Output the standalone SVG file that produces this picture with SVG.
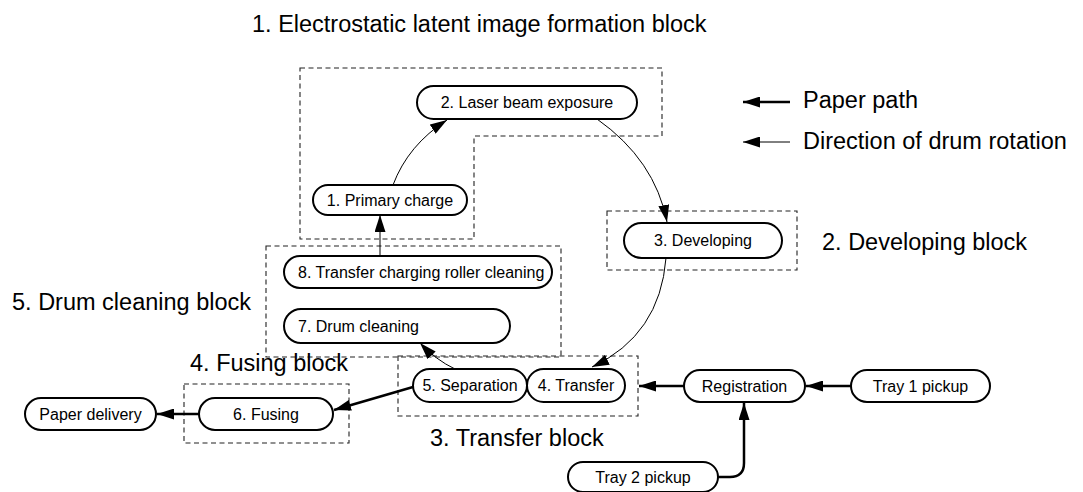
<svg xmlns="http://www.w3.org/2000/svg" width="1083" height="492" viewBox="0 0 1083 492">
<style>
text{font-family:"Liberation Sans",Arial,Helvetica,sans-serif;fill:#000}
.lbl{font-size:23.5px}
.nt{font-size:16px;text-anchor:middle}
.ntl{font-size:16px}
.node{fill:#fff;stroke:#000;stroke-width:2}
.blk{fill:none;stroke:#222;stroke-width:1.1;stroke-dasharray:5,3.5}
.thin{fill:none;stroke:#000;stroke-width:1;marker-end:url(#ah)}
.thick{fill:none;stroke:#000;stroke-width:2.5;marker-end:url(#ah)}
</style>
<defs>
<marker id="ah" markerUnits="userSpaceOnUse" markerWidth="18" markerHeight="11" refX="17" refY="5.5" orient="auto">
<path d="M0,0 L17,5.5 L0,11 z" fill="#000"/>
</marker>
</defs>
<rect width="1083" height="492" fill="#fff"/>
<g id="blocks">
<polygon class="blk" points="300,68 662,68 662,136 474,136 474,239 300,239"/>
<rect class="blk" x="607" y="211" width="190" height="59"/>
<rect class="blk" x="266" y="246" width="295" height="111"/>
<rect class="blk" x="398" y="356" width="240" height="60"/>
<rect class="blk" x="184" y="384" width="165" height="59"/>
</g>
<g id="labels">
<text class="lbl" x="252" y="32">1. Electrostatic latent image formation block</text>
<text class="lbl" x="822" y="250">2. Developing block</text>
<text class="lbl" x="12" y="310">5. Drum cleaning block</text>
<text class="lbl" x="190" y="371">4. Fusing block</text>
<text class="lbl" x="430" y="446">3. Transfer block</text>
<text class="lbl" x="803" y="108">Paper path</text>
<text class="lbl" x="803" y="149">Direction of drum rotation</text>
</g>
<g id="connectors">
<line class="thick" x1="790" y1="102" x2="743" y2="102"/>
<line class="thin" x1="790" y1="142" x2="743" y2="142"/>
<path class="thin" d="M393,185 Q408,145 447,120"/>
<path class="thin" d="M597,119 Q655,160 667,222"/>
<path class="thin" d="M666,258 Q660,335 592,367"/>
<path class="thin" d="M455,369 Q436,360 420,343"/>
<line class="thin" x1="380" y1="256" x2="380" y2="215"/>
<line class="thick" x1="851" y1="386" x2="806" y2="386"/>
<line class="thick" x1="684" y1="386" x2="639" y2="386"/>
<path class="thick" d="M718,477 L730,477 Q744,477 744,463 L744,403"/>
<line class="thick" x1="413" y1="387" x2="334" y2="410"/>
<line class="thick" x1="199" y1="414" x2="157" y2="414"/>
</g>
<g id="n-laser"><rect class="node" x="417" y="86" width="220" height="33" rx="16.5"/><text class="nt" x="527" y="108">2. Laser beam exposure</text></g>
<g id="n-primary"><rect class="node" x="313" y="185" width="154" height="30" rx="15"/><text class="nt" x="390" y="205.5">1. Primary charge</text></g>
<g id="n-developing"><rect class="node" x="624" y="223" width="158" height="35" rx="17.5"/><text class="nt" x="703" y="246">3. Developing</text></g>
<g id="n-trcleaning"><rect class="node" x="284" y="256" width="268" height="32" rx="16"/><text class="ntl" x="298" y="277.5">8. Transfer charging roller cleaning</text></g>
<g id="n-drumcleaning"><rect class="node" x="284" y="309" width="226" height="34" rx="17"/><text class="ntl" x="298" y="331.5">7. Drum cleaning</text></g>
<g id="n-separation"><rect class="node" x="413" y="369" width="114" height="33" rx="16.5"/><text class="nt" x="470" y="391">5. Separation</text></g>
<g id="n-transfer"><rect class="node" x="527" y="369" width="98" height="33" rx="16.5"/><text class="nt" x="576" y="391">4. Transfer</text></g>
<g id="n-registration"><rect class="node" x="684" y="370" width="121" height="32" rx="16"/><text class="nt" x="744.5" y="391.5">Registration</text></g>
<g id="n-tray1"><rect class="node" x="851" y="370" width="139" height="32" rx="16"/><text class="nt" x="920.5" y="391.5">Tray 1 pickup</text></g>
<g id="n-tray2"><rect class="node" x="568" y="462" width="150" height="30" rx="15"/><text class="nt" x="643" y="482.5">Tray 2 pickup</text></g>
<g id="n-fusing"><rect class="node" x="199" y="398" width="134" height="32" rx="16"/><text class="nt" x="266" y="419.5">6. Fusing</text></g>
<g id="n-delivery"><rect class="node" x="25" y="398" width="131" height="32" rx="16"/><text class="nt" x="90.5" y="419.5">Paper delivery</text></g>
</svg>
